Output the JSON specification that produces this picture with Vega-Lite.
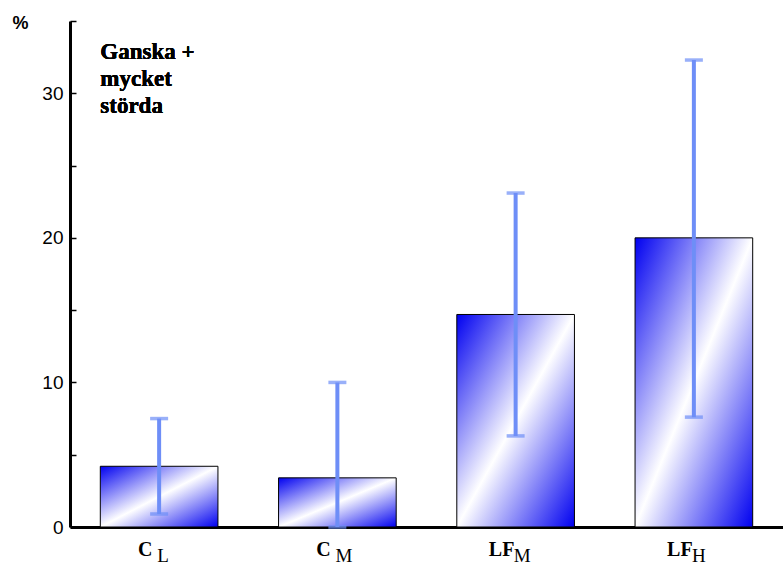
{
  "$schema": "https://vega.github.io/schema/vega-lite/v6.json",
  "width": 713,
  "height": 506,
  "autosize": {"type": "none"},
  "padding": {"left": 70, "top": 21, "right": 0, "bottom": 40},
  "background": "white",
  "config": {"view": {"stroke": null}},
  "data": {"values": [
    {"cat": "C_L", "main": "C", "sub": "L", "value": 4.2, "lo": 0.9, "hi": 7.5},
    {"cat": "C_M", "main": "C", "sub": "M", "value": 3.4, "lo": 0, "hi": 10},
    {"cat": "LF_M", "main": "LF", "sub": "M", "value": 14.7, "lo": 6.3, "hi": 23.1},
    {"cat": "LF_H", "main": "LF", "sub": "H", "value": 20, "lo": 7.6, "hi": 32.3}
  ]},
  "encoding": {
    "x": {"field": "cat", "type": "nominal", "sort": null,
      "scale": {"paddingInner": 0.34, "paddingOuter": 0.17},
      "axis": {"labels": false, "ticks": false, "title": null, "domainColor": "black", "domainWidth": 3, "grid": false}}
  },
  "layer": [
    {
      "mark": {"type": "bar", "stroke": "black", "strokeWidth": 1,
        "color": {"gradient": "linear", "x1": 0, "y1": 0, "x2": 1, "y2": 1,
          "stops": [{"offset": 0, "color": "#0000f0"}, {"offset": 0.5, "color": "#ffffff"}, {"offset": 1, "color": "#0000f0"}]}},
      "encoding": {
        "y": {"field": "value", "type": "quantitative",
          "scale": {"domain": [0, 35], "nice": false, "zero": true},
          "axis": {"values": [0, 2.5, 5, 7.5, 10, 12.5, 15, 17.5, 20, 22.5, 25, 27.5, 30, 32.5, 35],
            "labelExpr": "datum.value % 10 === 0 ? datum.label : ''",
            "grid": false, "tickSize": -6, "tickWidth": 1.5, "tickColor": "black",
            "domainColor": "black", "domainWidth": 3,
            "labelFont": "Liberation Sans", "labelFontSize": 19, "labelColor": "black", "labelPadding": 13,
            "title": "%", "titleAngle": 0, "titleFont": "Liberation Sans", "titleFontSize": 18, "titleFontWeight": "bold",
            "titleAlign": "left", "titleBaseline": "alphabetic", "titleX": -58, "titleY": 7, "titleColor": "black"}}
      }
    },
    {
      "mark": {"type": "rule", "color": "#6e8ef7", "strokeWidth": 4},
      "encoding": {"y": {"field": "lo", "type": "quantitative"}, "y2": {"field": "hi"}}
    },
    {
      "mark": {"type": "tick", "color": "#6e8ef7", "size": 18, "thickness": 3.5, "orient": "horizontal"},
      "encoding": {"y": {"field": "lo", "type": "quantitative"}}
    },
    {
      "mark": {"type": "tick", "color": "#6e8ef7", "size": 18, "thickness": 3.5, "orient": "horizontal"},
      "encoding": {"y": {"field": "hi", "type": "quantitative"}}
    },
    {
      "mark": {"type": "text", "font": "Liberation Serif", "fontWeight": "bold", "fontSize": 20, "color": "black",
        "align": "center", "baseline": "alphabetic", "dx": -14, "dy": 29},
      "encoding": {"y": {"datum": 0}, "text": {"field": "main"}}
    },
    {
      "mark": {"type": "text", "font": "Liberation Serif", "fontSize": 19, "color": "black",
        "align": "left", "baseline": "alphabetic", "dx": -2, "dy": 35},
      "encoding": {"y": {"datum": 0}, "text": {"field": "sub"}}
    },
    {
      "mark": {"type": "text", "font": "Liberation Serif", "fontWeight": "bold", "fontSize": 23, "color": "black",
        "align": "left", "baseline": "alphabetic", "lineHeight": 27, "lineBreak": "\n",
        "text": "Ganska +\nmycket\nstörda"},
      "encoding": {
        "x": {"datum": "C_L", "bandPosition": 0},
        "y": {"datum": 32.4}
      }
    }
  ]
}
